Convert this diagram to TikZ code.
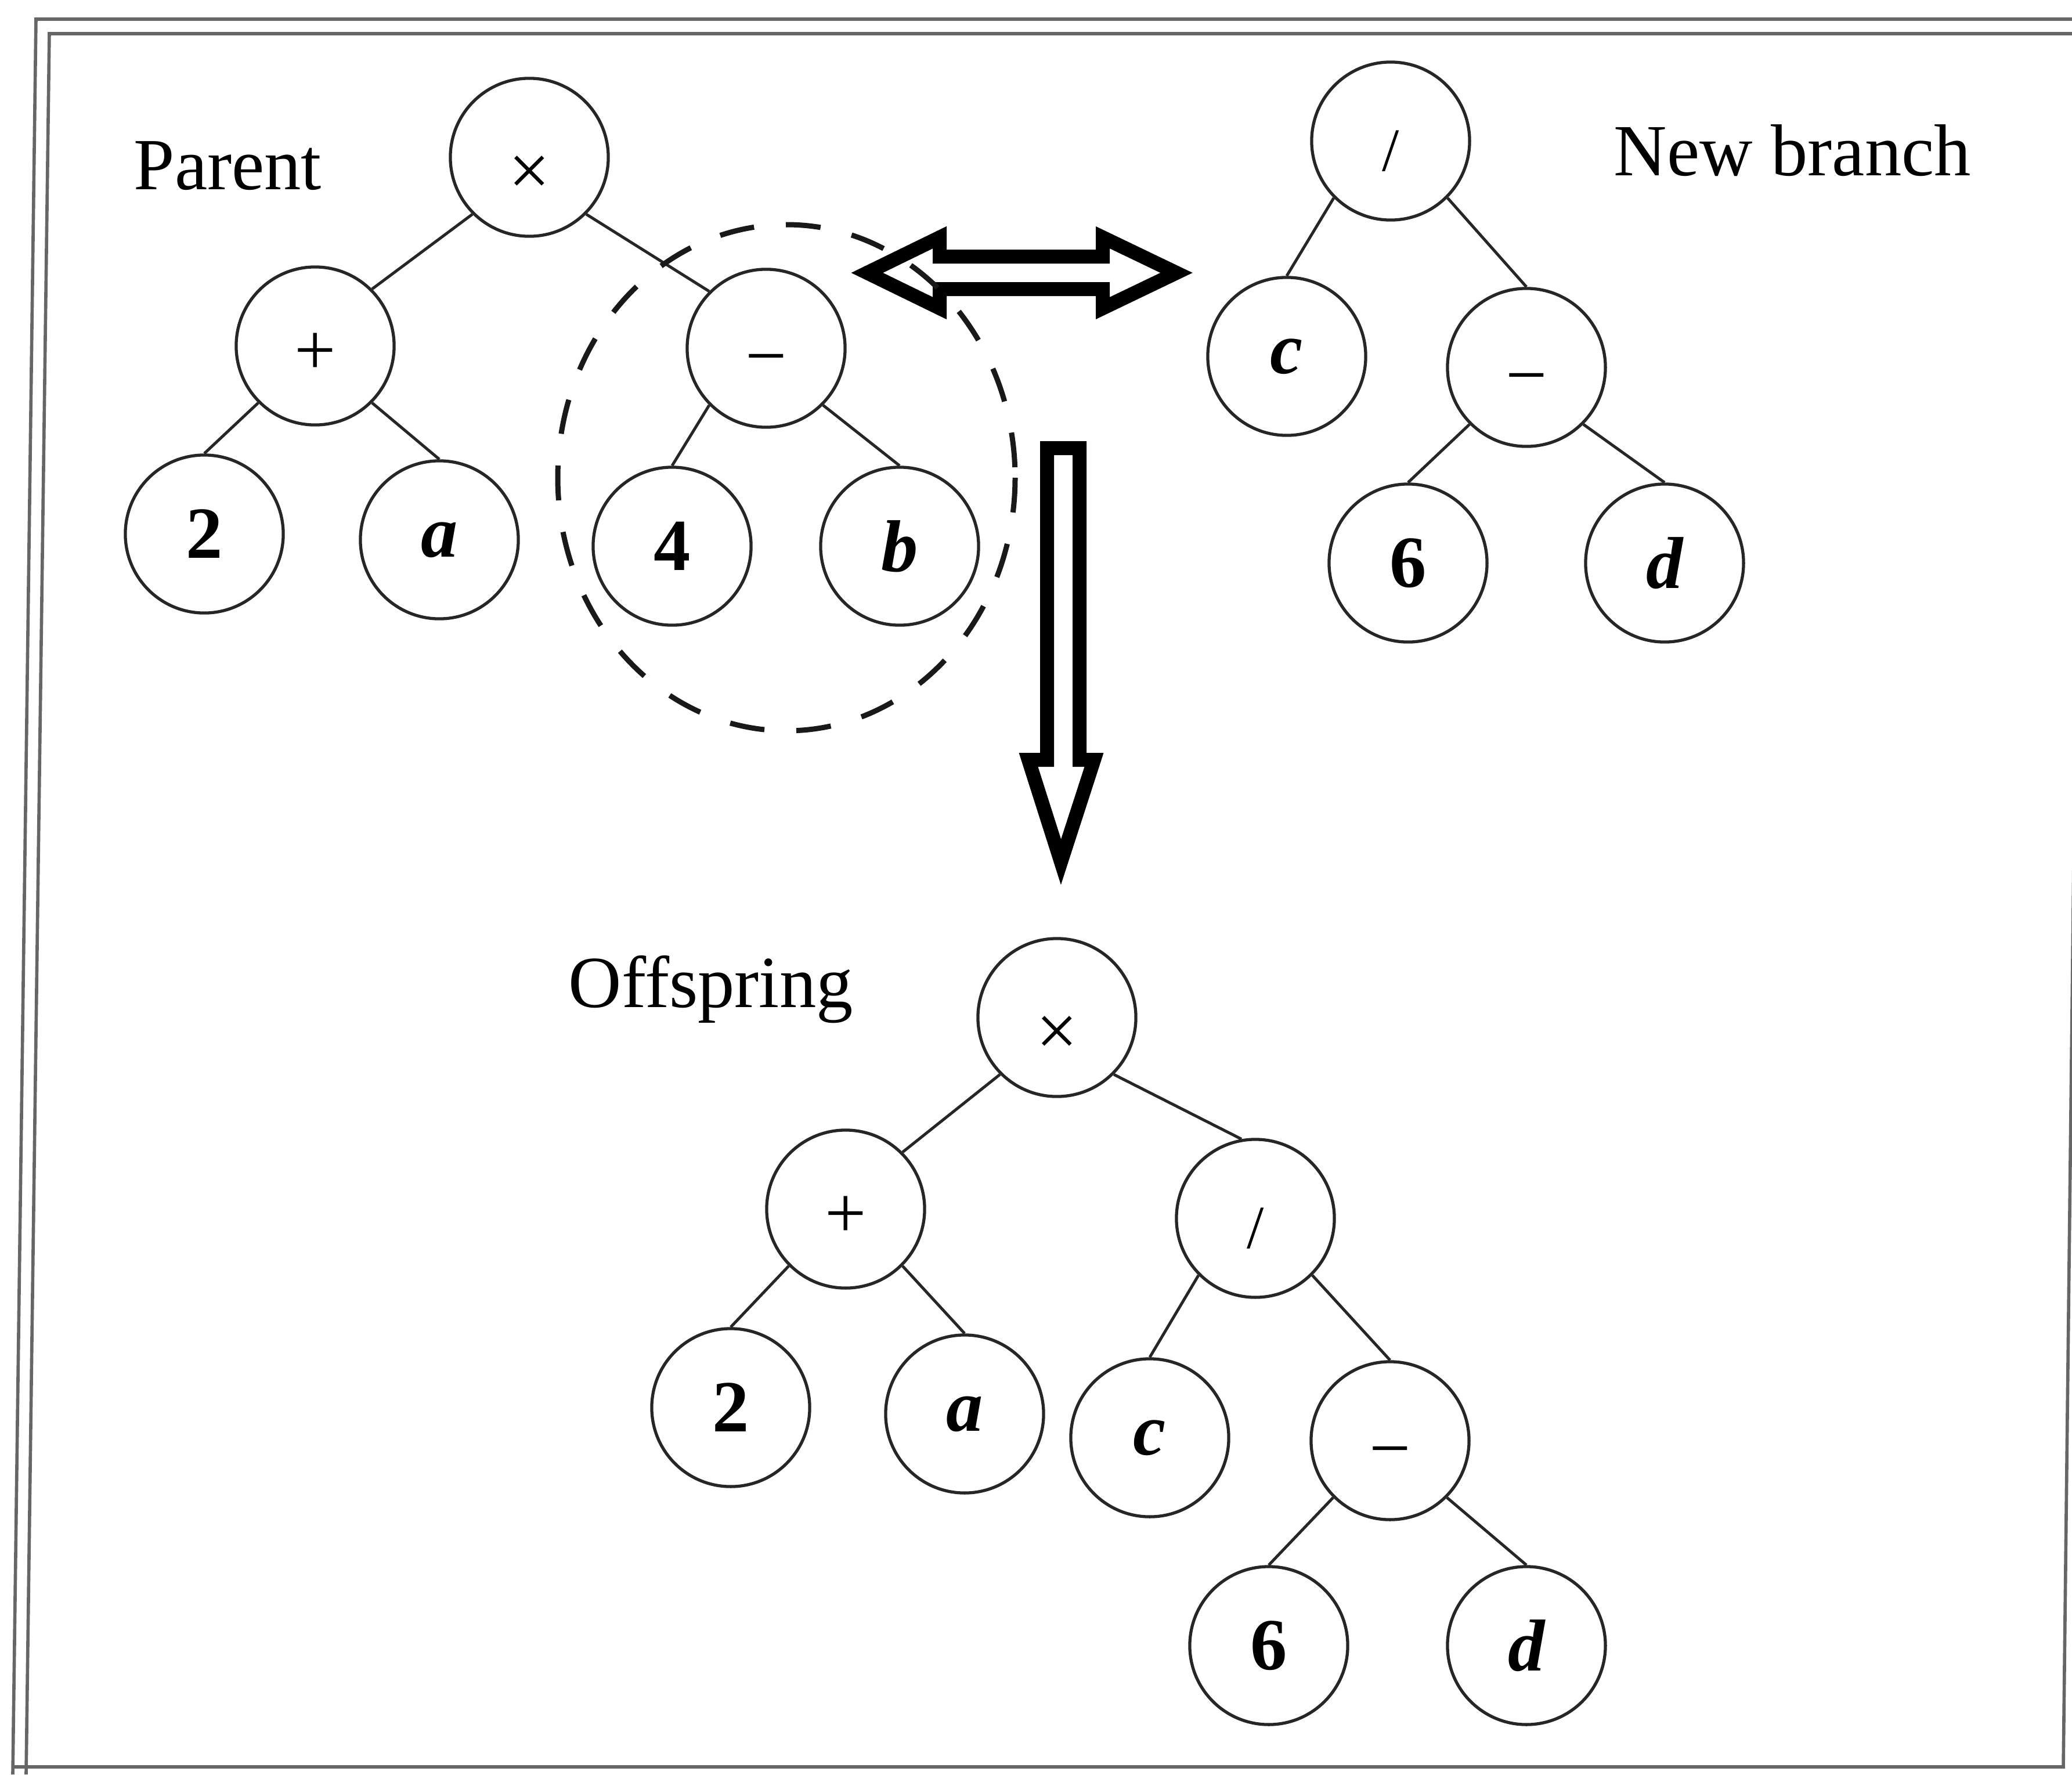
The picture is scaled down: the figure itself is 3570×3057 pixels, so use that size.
\documentclass[tikz,border=0pt]{standalone}
\usepackage{fontspec}
\setmainfont{Liberation Serif}
\begin{document}
\begin{tikzpicture}[x=0.01cm,y=-0.01cm,
  treenode/.style={circle,draw=black!85,line width=1.5pt,minimum size=2.72cm,inner sep=0pt,
    font=\fontsize{36}{40}\selectfont},
  opnode/.style={treenode,text depth=0pt,text height=#1},
  numnode/.style={treenode,font=\fontsize{36}{40}\selectfont\bfseries},
  varnode/.style={treenode,font=\fontsize{36}{40}\selectfont\bfseries\itshape},
  branch/.style={draw=black!85,line width=1.4pt},
  caption/.style={anchor=base west,inner sep=0pt,font=\fontsize{36}{40}\selectfont},
  frameline/.style={draw=black!60,line width=1.6pt},
  blockarrow/.style={draw=black,line width=0.24cm,line join=miter,miter limit=20},
  subtree/.style={draw=black!90,line width=0.09cm,dash pattern=on 0.6cm off 0.55cm}]

\useasboundingbox (0,0) rectangle (3570,3057);

% double frame (top and left doubled)
\draw[frameline] (22,3057) -- (62,33) -- (3600,33);
\draw[frameline] (45,3057) -- (85,58) -- (3600,58);
\draw[frameline] (22,3044) -- (3555,3044) -- (3590,0);

% captions
\node[caption] (lparent) at (230,326) {Parent};
\node[caption] (lnew) at (2780,302) {New branch};
\node[caption] (loff) at (979,1735) {Offspring};

% parent tree
\node[opnode=37pt]  (pX)  at (912,271) {×};
\node[opnode=28pt]  (pP)  at (543,596) {+};
\node[opnode=31.5pt] (pM) at (1320,600) {−};
\node[numnode] (p2)  at (352,920) {2};
\node[varnode] (pa)  at (757,930) {a};
\node[numnode] (p4)  at (1158,941) {4};
\node[varnode] (pb)  at (1550,941) {b};
\draw[branch] (pX.south west) -- (pP.north east);
\draw[branch] (pX.south east) -- (pM.north west);
\draw[branch] (pP.south west) -- (p2.north);
\draw[branch] (pP.south east) -- (pa.north);
\draw[branch] (pM.south west) -- (p4.north);
\draw[branch] (pM.south east) -- (pb.north);

% new branch
\node[opnode=29.5pt] (nD) at (2396,243) {\fontsize{30}{34}\selectfont /};
\node[varnode] (nc)  at (2217,614) {c};
\node[opnode=31.5pt] (nM) at (2630,633) {−};
\node[numnode] (n6)  at (2426,970) {6};
\node[varnode] (nd)  at (2868,970) {d};
\draw[branch] (nD.south west) -- (nc.north);
\draw[branch] (nD.south east) -- (nM.north);
\draw[branch] (nM.south west) -- (n6.north);
\draw[branch] (nM.south east) -- (nd.north);

% offspring tree
\node[opnode=37pt]  (oX)  at (1821,1753) {×};
\node[opnode=28pt]  (oP)  at (1457,2083) {+};
\node[opnode=29.5pt] (oD) at (2163,2099) {\fontsize{30}{34}\selectfont /};
\node[numnode] (o2)  at (1259,2425) {2};
\node[varnode] (oa)  at (1662,2436) {a};
\node[varnode] (oc)  at (1981,2477) {c};
\node[opnode=31.5pt] (oM) at (2395,2482) {−};
\node[numnode] (o6)  at (2186,2835) {6};
\node[varnode] (od)  at (2630,2835) {d};
\draw[branch] (oX.south west) -- (oP.north east);
\draw[branch] (oX.south east) -- (oD.100);
\draw[branch] (oP.south west) -- (o2.north);
\draw[branch] (oP.south east) -- (oa.north);
\draw[branch] (oD.south west) -- (oc.north);
\draw[branch] (oD.south east) -- (oM.north);
\draw[branch] (oM.south west) -- (o6.north);
\draw[branch] (oM.south east) -- (od.north);

% exchange arrow between the subtree and the new branch
\draw[blockarrow] (1494,470) -- (1619,409) -- (1619,442) -- (1900,442) -- (1900,409)
  -- (2027,470) -- (1900,531) -- (1900,498) -- (1619,498) -- (1619,531) -- cycle;

% arrow down to the offspring
\draw[blockarrow] (1804,772) -- (1860,772) -- (1860,1309) -- (1885,1309) -- (1828,1485)
  -- (1772,1309) -- (1804,1309) -- cycle;

% selected subtree
\draw[subtree] (1355,823) ellipse [x radius=394, y radius=436];
\end{tikzpicture}
\end{document}
